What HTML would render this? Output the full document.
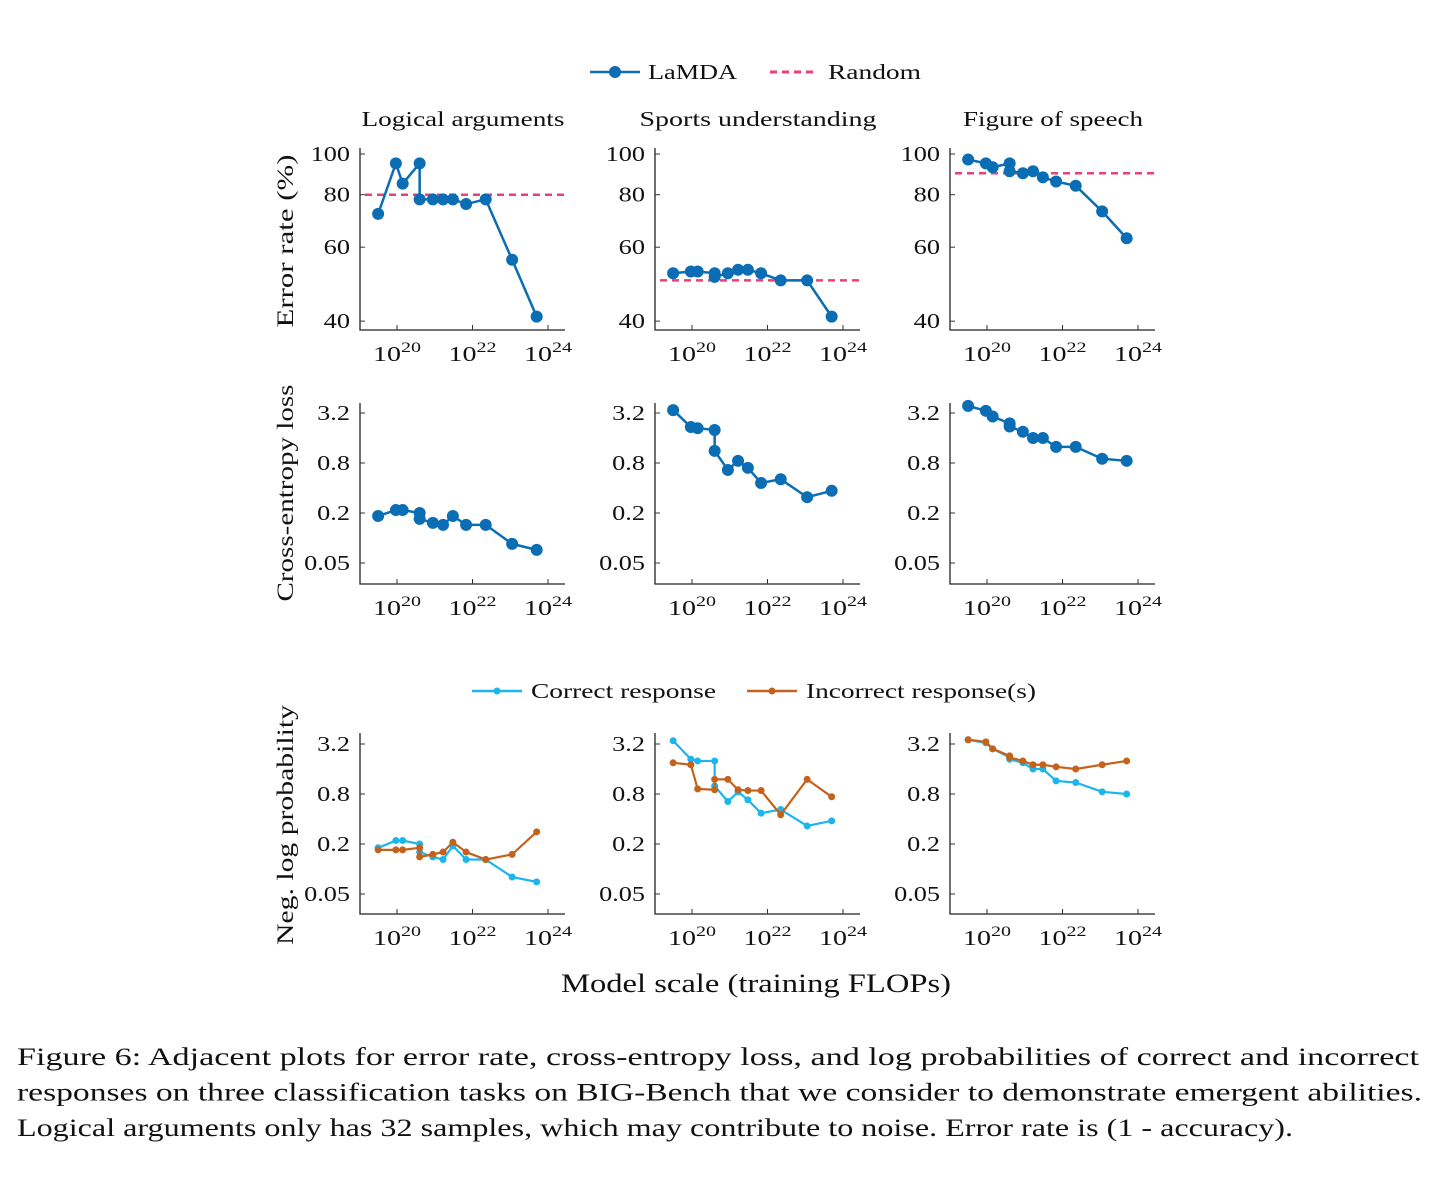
<!DOCTYPE html>
<html><head><meta charset="utf-8"><style>
body{margin:0;background:#fff}
svg{display:block;font-family:"Liberation Serif","DejaVu Serif",serif}
</style></head><body>
<svg id="fig" width="1456" height="1188" viewBox="0 0 1456 1188" xmlns="http://www.w3.org/2000/svg"></svg>
<script>
const xLog=[19.5,19.97,20.15,20.6,20.6,20.95,21.22,21.48,21.83,22.35,23.05,23.7];
const errLogical=[72,95,85,95,78,78,78,78,76,78,56,41];
const errSports=[52,52.5,52.5,52,51,52,53,53,52,50,50,41];
const errFigure=[97,95,93,95,91,90,91,88,86,84,73,63];
const randomLevels=[80,50,90];
const ceLogical=[0.184,0.217,0.217,0.2,0.17,0.152,0.144,0.184,0.144,0.144,0.085,0.072];
const ceSports=[3.47,2.17,2.1,2.0,1.12,0.66,0.85,0.7,0.46,0.51,0.31,0.37];
const ceFigure=[3.9,3.4,2.9,2.4,2.2,1.9,1.6,1.6,1.25,1.25,0.9,0.85];
const corLogical=[0.18,0.22,0.22,0.2,0.16,0.14,0.13,0.19,0.13,0.13,0.08,0.07];
const incLogical=[0.17,0.17,0.17,0.18,0.14,0.15,0.16,0.21,0.16,0.13,0.15,0.28];
const corSports=[3.5,2.1,2.0,2.0,1.0,0.65,0.85,0.68,0.47,0.52,0.33,0.38];
const incSports=[1.9,1.8,0.92,0.9,1.2,1.2,0.9,0.88,0.88,0.45,1.2,0.74];
const corFigure=[3.6,3.3,2.8,2.2,2.1,1.9,1.6,1.6,1.15,1.1,0.85,0.8];
const incFigure=[3.6,3.4,2.8,2.3,2.2,2.0,1.8,1.8,1.7,1.6,1.8,2.0];
const titles=["Logical arguments","Sports understanding","Figure of speech"];
const errTicks=[100,80,60,40];
const probTicks=[3.2,0.8,0.2,0.05];
const xTicks=[20,22,24];

const NS="http://www.w3.org/2000/svg";
const svg=document.getElementById('fig');
function el(tag,attrs,parent,text){const e=document.createElementNS(NS,tag);for(const k in attrs)e.setAttribute(k,attrs[k]);if(text!==undefined)e.textContent=text;(parent||svg).appendChild(e);return e;}
function stretch(t,f){const w=t.getComputedTextLength();t.setAttribute('textLength',(w*f).toFixed(1));t.setAttribute('lengthAdjust','spacingAndGlyphs');}
const BLUE="#0b6db3",PINK="#e8417a",CYAN="#1cb6ee",ORANGE="#c4621c";
const colLeft=[360,655,950];
function xScale(c,v){return colLeft[c]+37+(v-20)*37.75;}
const rows=[
 {top:148,bottom:330,y:v=>154+(2-Math.log10(v))*420,ticks:errTicks},
 {top:403,bottom:584,y:v=>413-25*Math.log2(v/3.2),ticks:probTicks},
 {top:733,bottom:914,y:v=>744-25*Math.log2(v/3.2),ticks:probTicks}
];
function axes(r,c){
 const R=rows[r],L=colLeft[c];
 const g=el('g',{});
 
 
 el('path',{d:`M${L} ${R.top}V${R.bottom}H${L+205}`,stroke:'#222',fill:'none','stroke-width':1.3},g);
 R.ticks.forEach(t=>{const y=R.y(t);
  el('line',{x1:L,x2:L+5,y1:y,y2:y,stroke:'#333','stroke-width':1},g);
  const tx=el('text',{x:L-10,y:y+7,'text-anchor':'end','font-size':21,fill:'#111'},g,String(t));
  
  stretch(tx,1.25);});
 xTicks.forEach(t=>{const x=xScale(c,t);
  el('line',{x1:x,x2:x,y1:R.bottom,y2:R.bottom-5,stroke:'#333','stroke-width':1},g);
  const tx=el('text',{x:x-24,y:R.bottom+31,'font-size':21,fill:'#111'},g);
  
  el('tspan',{},tx,'10');el('tspan',{dy:-9,'font-size':15},tx,String(t));
  tx.setAttribute('textLength','48');tx.setAttribute('lengthAdjust','spacingAndGlyphs');});
 return g;
}
function series(g,r,c,vals,color,rad,w,name){
 const R=rows[r];
 const pts=vals.map((v,i)=>[xScale(c,xLog[i]),R.y(v)]);
 const p=el('polyline',{points:pts.map(p=>p.join(',')).join(' '),fill:'none',stroke:color,'stroke-width':w,'stroke-linejoin':'round'},g);
 
 pts.forEach(pt=>{const m=el('circle',{cx:pt[0],cy:pt[1],r:rad,fill:color},g);
  });
}
const errs=[errLogical,errSports,errFigure],ces=[ceLogical,ceSports,ceFigure];
const cors=[corLogical,corSports,corFigure],incs=[incLogical,incSports,incFigure];
const titleW=[203,237,180];
for(let c=0;c<3;c++){
 const t=el('text',{x:colLeft[c]+103,y:126,'text-anchor':'middle','font-size':21,fill:'#111',textLength:titleW[c],lengthAdjust:'spacingAndGlyphs'},svg,titles[c]);
 
 let g=axes(0,c);
 const ry=rows[0].y(randomLevels[c]);
 const rl=el('line',{x1:colLeft[c]+5,x2:colLeft[c]+207,y1:ry,y2:ry,stroke:PINK,'stroke-width':2.5,'stroke-dasharray':'7,5'},g);
 
 series(g,0,c,errs[c],BLUE,6,2.5,'lamda');
 g=axes(1,c); series(g,1,c,ces[c],BLUE,6,2.5,'lamda-ce');
 g=axes(2,c); series(g,2,c,cors[c],CYAN,3.5,2.2,'correct'); series(g,2,c,incs[c],ORANGE,3.5,2.2,'incorrect');
}
function ylab(x,y,s,w,n){const t=el('text',{x:x,y:y,'text-anchor':'middle','font-size':23,fill:'#111',textLength:w,lengthAdjust:'spacingAndGlyphs',transform:`rotate(-90 ${x} ${y})`},svg,s);
 }
ylab(293,241,'Error rate (%)',173,'y-axis-title-error');
ylab(293,493,'Cross-entropy loss',217,'y-axis-title-ce');
ylab(293,825,'Neg. log probability',240,'y-axis-title-logprob');
let t=el('text',{x:756,y:992,'text-anchor':'middle','font-size':26,fill:'#111',textLength:390,lengthAdjust:'spacingAndGlyphs'},svg,'Model scale (training FLOPs)');

function legend(x1,x2,y,color,dash,marker,label,tx,w,n){
 const g=el('g',{});
 const a={x1:x1,x2:x2,y1:y,y2:y,stroke:color,'stroke-width':dash?3:2.5};if(dash)a['stroke-dasharray']='7,5';
 el('line',a,g);if(marker)el('circle',{cx:(x1+x2)/2,cy:y,r:marker,fill:color},g);
 el('text',{x:tx,y:y+7,'font-size':21,fill:'#111',textLength:w,lengthAdjust:'spacingAndGlyphs'},g,label);}
legend(590,640,72,BLUE,false,6,'LaMDA',648,89,'legend-lamda');
legend(770,818,72,PINK,true,0,'Random',828,93,'legend-random');
legend(472,522,691,CYAN,false,3.5,'Correct response',531,185,'legend-correct');
legend(747,797,691,ORANGE,false,3.5,'Incorrect response(s)',806,230,'legend-incorrect');
const cap=["Figure 6: Adjacent plots for error rate, cross-entropy loss, and log probabilities of correct and incorrect","responses on three classification tasks on BIG-Bench that we consider to demonstrate emergent abilities.","Logical arguments only has 32 samples, which may contribute to noise. Error rate is (1 - accuracy)."];
const capW=[1402,1405,1276];
cap.forEach((s,i)=>{const c=el('text',{x:17,y:1065+i*35.5,'font-size':25,fill:'#111',textLength:capW[i],lengthAdjust:'spacingAndGlyphs'},svg,s);
 });
</script>
</body></html>
